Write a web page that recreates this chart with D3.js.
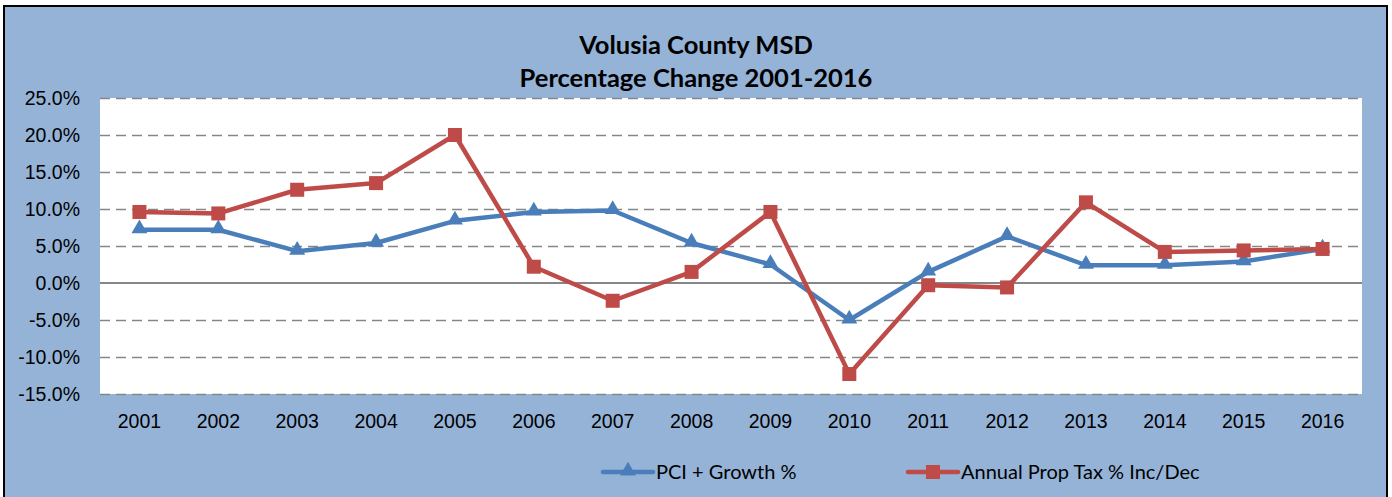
<!DOCTYPE html>
<html>
<head>
<meta charset="utf-8">
<script src="https://cdn.jsdelivr.net/npm/d3@7"></script>
<style>
  body { margin: 0; background: #fff; }
  svg { display: block; font-family: Lato, "Open Sans", sans-serif; }
  .grid line { stroke: #868686; stroke-width: 1.5; stroke-dasharray: 10,6; }
  .grid path { display: none; }
  .axis path, .axis line { display: none; }
  .axis text { font-size: 19.5px; fill: #000; }
</style>
</head>
<body>
<div id="chart"></div>
<script>
const YEARS = ['2001','2002','2003','2004','2005','2006','2007','2008','2009','2010','2011','2012','2013','2014','2015','2016']
const PCI_GROWTH = [7.2, 7.2, 4.3, 5.4, 8.4, 9.6, 9.8, 5.4, 2.5, -5.0, 1.5, 6.3, 2.4, 2.4, 2.9, 4.6]
const PROP_TAX = [9.6, 9.4, 12.6, 13.5, 20.0, 2.2, -2.4, 1.5, 9.6, -12.3, -0.3, -0.6, 10.9, 4.2, 4.4, 4.6]
const Y_TICKS = [25, 20, 15, 10, 5, 0, -5, -10, -15]
const SERIES = [
  {name: 'PCI + Growth %', values: PCI_GROWTH, color: '#4A7EBB', marker: 'triangle'},
  {name: 'Annual Prop Tax % Inc/Dec', values: PROP_TAX, color: '#BE4B48', marker: 'square'},
]

const W = 1392, H = 497
const m = {top: 98, left: 100}
const w = 1362 - m.left
const h = 394 - m.top

const svg = d3.select('#chart').append('svg')
  .attr('width', W).attr('height', H)

svg.append('rect')
  .attr('x', 4).attr('y', 6).attr('width', 1383).attr('height', 500)
  .attr('fill', '#95B3D7').attr('stroke', '#000').attr('stroke-width', 2)

const title = svg.append('text')
  .attr('text-anchor', 'middle').attr('font-weight', 'bold').attr('font-size', 25.5)
title.append('tspan').attr('x', 696).attr('y', 54).text('Volusia County MSD')
title.append('tspan').attr('x', 696).attr('y', 87).text('Percentage Change 2001-2016')

const g = svg.append('g').attr('transform', 'translate(' + m.left + ',' + m.top + ')')

g.append('rect').attr('width', w).attr('height', h).attr('fill', '#fff')

const x = d3.scaleBand().domain(YEARS).range([0, w])
const y = d3.scaleLinear().domain([-15, 25]).range([h, 0])

g.append('g').attr('class', 'grid')
  .call(d3.axisLeft(y).tickValues(Y_TICKS.filter(d => d != 0)).tickSize(-w).tickFormat(''))

g.append('line')
  .attr('x1', 0).attr('x2', w).attr('y1', y(0)).attr('y2', y(0))
  .attr('stroke', '#868686').attr('stroke-width', 2)

g.append('g').attr('class', 'axis')
  .attr('transform', 'translate(-17,0)')
  .call(d3.axisLeft(y).tickValues(Y_TICKS).tickSize(0).tickFormat(d => d.toFixed(1) + '%'))

g.append('g').attr('class', 'axis')
  .attr('transform', 'translate(0,' + h + ')')
  .call(d3.axisBottom(x).tickSize(0).tickPadding(20))

const cx = d => x(d) + x.bandwidth() / 2
const tri = d3.symbol().type(d3.symbolTriangle).size(110)

const drawMarker = (sel, s) => {
  if (s.marker == 'square') {
    sel.append('rect').attr('x', -7).attr('y', -7).attr('width', 14).attr('height', 14).attr('fill', s.color)
  } else {
    sel.append('path').attr('d', tri).attr('transform', 'translate(0,-1)').attr('fill', s.color)
  }
}

SERIES.forEach(s => {
  const line = d3.line().x((d, i) => cx(YEARS[i])).y(d => y(d))
  g.append('path')
    .attr('d', line(s.values))
    .attr('fill', 'none').attr('stroke', s.color).attr('stroke-width', 4.5)
    .attr('stroke-linejoin', 'round')
  g.selectAll(null).data(s.values).enter().append('g')
    .attr('transform', (d, i) => 'translate(' + cx(YEARS[i]) + ',' + y(d) + ')')
    .each(function() { drawMarker(d3.select(this), s) })
})

// legend
const LEGEND_X = [603, 908]
SERIES.forEach((s, i) => {
  const lg = svg.append('g').attr('transform', 'translate(' + LEGEND_X[i] + ',472)')
  lg.append('line').attr('x1', 0).attr('x2', 50).attr('stroke', s.color).attr('stroke-width', 4.5)
    .attr('stroke-linecap', 'round')
  const mk = lg.append('g').attr('transform', 'translate(25,0)')
  drawMarker(mk, s)
  lg.append('text').attr('x', 53).attr('y', 7).attr('font-size', 20).text(s.name)
})
</script>
</body>
</html>
